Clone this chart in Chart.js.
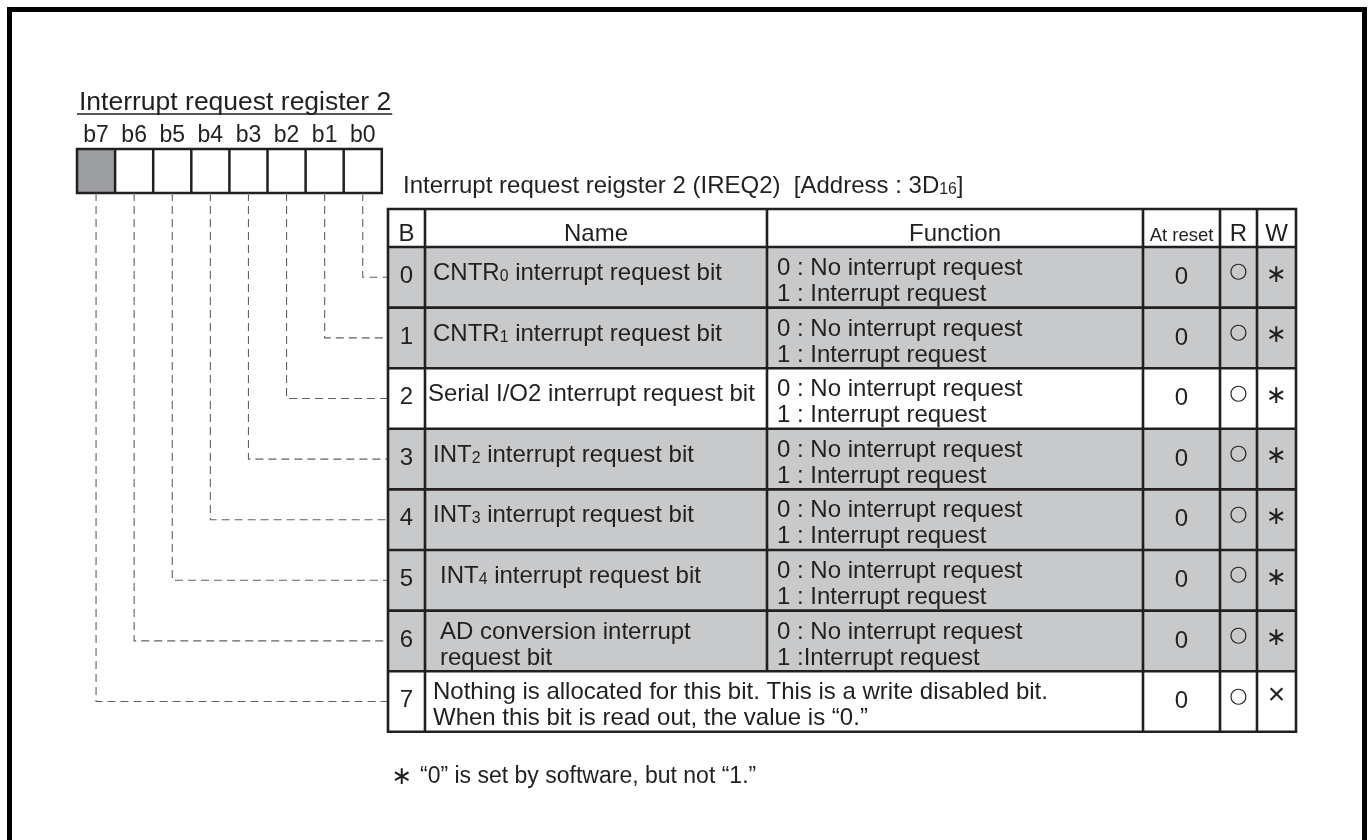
<!DOCTYPE html>
<html>
<head>
<meta charset="utf-8">
<script src="https://cdn.jsdelivr.net/npm/chart.js"></script>
<style>
  html, body { margin: 0; padding: 0; background: #fff; }
  #wrap { width: 1369px; height: 840px; }
</style>
</head>
<body>
<div id="wrap"><canvas id="myChart" width="1369" height="840"></canvas></div>
<script>
"use strict";
// register contents ({..} marks a subscript)
var registerTitle = "Interrupt request register 2";
var tableTitle = "Interrupt request reigster 2 (IREQ2)  [Address : 3D{16}]";
var bitLabels = ["b7", "b6", "b5", "b4", "b3", "b2", "b1", "b0"];
var headers = ["B", "Name", "Function", "At reset", "R", "W"];
var bitNumbers = [0, 1, 2, 3, 4, 5, 6, 7];
var bitNames = [
  "CNTR{0} interrupt request bit",
  "CNTR{1} interrupt request bit",
  "Serial I/O2 interrupt request bit",
  "INT{2} interrupt request bit",
  "INT{3} interrupt request bit",
  "INT{4} interrupt request bit",
  "AD conversion interrupt\nrequest bit",
  "Nothing is allocated for this bit. This is a write disabled bit.\nWhen this bit is read out, the value is \u201c0.\u201d",
];
var func0 = [
  "0 : No interrupt request", "0 : No interrupt request", "0 : No interrupt request",
  "0 : No interrupt request", "0 : No interrupt request", "0 : No interrupt request",
  "0 : No interrupt request", null,
];
var func1 = [
  "1 : Interrupt request", "1 : Interrupt request", "1 : Interrupt request",
  "1 : Interrupt request", "1 : Interrupt request", "1 : Interrupt request",
  "1 :Interrupt request", null,
];
var resetValues = ["0", "0", "0", "0", "0", "0", "0", "0"];
var readMarks = ["\u25cb", "\u25cb", "\u25cb", "\u25cb", "\u25cb", "\u25cb", "\u25cb", "\u25cb"];
var writeMarks = ["\u2217", "\u2217", "\u2217", "\u2217", "\u2217", "\u2217", "\u2217", "\u00d7"];
var shaded = [true, true, false, true, true, true, true, false];
var unusedBits = ["b7"];
var footnote = "\u201c0\u201d is set by software, but not \u201c1.\u201d";

// layout (drawing units = canvas pixels)
var FONT = '"Liberation Sans", Arial, Helvetica, sans-serif';
var SYM = '"DejaVu Sans", sans-serif';
var INK = "#231f20";
var SHADE = "#c8c9cb";
var boxLeft = 77, boxW = 38.1, boxTop = 149, boxBottom = 193;
var colEdges = [388, 425, 767, 1143, 1220, 1257, 1296];
var tableTop = 209, headBottom = 247, rowH = 60.6;
var nameIndent = [433, 433, 428, 433, 433, 440, 440, 433];

function rowTop(n) { return headBottom + n * rowH; }
function bitX(i) { return boxLeft + (i + 0.5) * boxW; }

var leaderSets = bitLabels.map(function (lab, i) {
  var n = bitNumbers[7 - i];
  var y = rowTop(n) + rowH / 2;
  return {
    data: [{ x: bitX(i), y: boxBottom }, { x: bitX(i), y: y }, { x: colEdges[0], y: y }],
    showLine: true,
    borderColor: "#606163",
    borderWidth: 1.1,
    borderDash: [8, 5],
    pointRadius: 0,
    tension: 0,
  };
});

function richText(ctx, str, x, y, size, align) {
  var parts = str.split(/[{}]/);
  var w = 0, i;
  for (i = 0; i < parts.length; i++) {
    ctx.font = (i % 2 ? size * 0.66 : size) + "px " + FONT;
    w += ctx.measureText(parts[i]).width;
  }
  var cx = align === "center" ? x - w / 2 : x;
  ctx.textAlign = "left";
  ctx.textBaseline = "alphabetic";
  for (i = 0; i < parts.length; i++) {
    ctx.font = (i % 2 ? size * 0.66 : size) + "px " + FONT;
    ctx.fillText(parts[i], cx, y + (i % 2 ? 1 : 0));
    cx += ctx.measureText(parts[i]).width;
  }
  return w;
}

var tablePlugin = {
  id: "registerTable",
  beforeDatasetsDraw: function (chart) {
    var ctx = chart.ctx, sx = chart.scales.x, sy = chart.scales.y;
    var X = function (v) { return sx.getPixelForValue(v); };
    var Y = function (v) { return sy.getPixelForValue(v); };
    ctx.save();
    // frame
    ctx.strokeStyle = "#000";
    ctx.lineWidth = 5;
    ctx.beginPath();
    ctx.moveTo(X(9.5), Y(840));
    ctx.lineTo(X(9.5), Y(9.5));
    ctx.lineTo(X(1364.5), Y(9.5));
    ctx.lineTo(X(1364.5), Y(840));
    ctx.stroke();

    ctx.fillStyle = INK;
    var tw = richText(ctx, registerTitle, X(79), Y(110), 26.5, "left");
    ctx.strokeStyle = INK;
    ctx.lineWidth = 1.5;
    ctx.beginPath();
    ctx.moveTo(X(77), Y(114));
    ctx.lineTo(X(79) + tw + 1, Y(114));
    ctx.stroke();

    // register bits
    bitLabels.forEach(function (lab, i) {
      if (unusedBits.indexOf(lab) >= 0) {
        ctx.fillStyle = "#9d9ea0";
        ctx.fillRect(X(boxLeft + i * boxW), Y(boxTop), boxW, boxBottom - boxTop);
      }
      ctx.fillStyle = INK;
      richText(ctx, lab, X(bitX(i)), Y(142), 23, "center");
    });
    ctx.strokeStyle = INK;
    ctx.lineWidth = 2.5;
    ctx.strokeRect(X(boxLeft), Y(boxTop), boxW * 8, boxBottom - boxTop);
    ctx.beginPath();
    for (var k = 1; k < 8; k++) {
      ctx.moveTo(X(boxLeft + k * boxW), Y(boxTop));
      ctx.lineTo(X(boxLeft + k * boxW), Y(boxBottom));
    }
    ctx.stroke();
    ctx.restore();
  },
  afterDatasetsDraw: function (chart) {
    var ctx = chart.ctx, sx = chart.scales.x, sy = chart.scales.y;
    var X = function (v) { return sx.getPixelForValue(v); };
    var Y = function (v) { return sy.getPixelForValue(v); };
    var L = colEdges[0], R = colEdges[6];
    var bottom = rowTop(bitNumbers.length);
    ctx.save();
    ctx.fillStyle = INK;
    richText(ctx, tableTitle, X(403), Y(193), 24, "left");

    // fills
    bitNumbers.forEach(function (n) {
      ctx.fillStyle = shaded[n] ? SHADE : "#fff";
      ctx.fillRect(X(L), Y(rowTop(n)), X(R) - X(L), rowH);
    });
    ctx.fillStyle = "#fff";
    ctx.fillRect(X(L), Y(tableTop), X(R) - X(L), headBottom - tableTop);

    // grid
    ctx.strokeStyle = INK;
    ctx.lineWidth = 2.6;
    ctx.beginPath();
    [tableTop, headBottom].concat(bitNumbers.map(function (n) { return rowTop(n + 1); }))
      .forEach(function (y) {
        ctx.moveTo(X(L - 1.3), Y(y));
        ctx.lineTo(X(R + 1.3), Y(y));
      });
    colEdges.forEach(function (cx, c) {
      ctx.moveTo(X(cx), Y(tableTop));
      ctx.lineTo(X(cx), Y(c === 2 ? rowTop(7) : bottom));
    });
    ctx.stroke();

    // header
    ctx.fillStyle = INK;
    headers.forEach(function (h, c) {
      var mid = (colEdges[c] + colEdges[c + 1]) / 2;
      richText(ctx, h, X(mid), Y(241), c === 3 ? 18.5 : 24, "center");
    });

    // rows
    bitNumbers.forEach(function (n) {
      var t = rowTop(n);
      ctx.fillStyle = INK;
      richText(ctx, String(n), X((colEdges[0] + colEdges[1]) / 2), Y(t + 36), 24, "center");
      var lines = bitNames[n].split("\n");
      if (lines.length === 1) {
        richText(ctx, lines[0], X(nameIndent[n]), Y(t + 33), 24, "left");
      } else {
        richText(ctx, lines[0], X(nameIndent[n]), Y(t + 28), 24, "left");
        richText(ctx, lines[1], X(nameIndent[n]), Y(t + 54), 24, "left");
      }
      if (func0[n]) richText(ctx, func0[n], X(777), Y(t + 28), 24, "left");
      if (func1[n]) richText(ctx, func1[n], X(777), Y(t + 54), 24, "left");
      richText(ctx, resetValues[n], X((colEdges[3] + colEdges[4]) / 2), Y(t + 37), 24, "center");
      ctx.textAlign = "center";
      ctx.textBaseline = "middle";
      ctx.font = "21px " + SYM;
      ctx.fillText(readMarks[n], X((colEdges[4] + colEdges[5]) / 2), Y(t + 25));
      if (writeMarks[n] === "\u00d7") {
        ctx.font = "30px " + FONT;
        ctx.fillText(writeMarks[n], X((colEdges[5] + colEdges[6]) / 2), Y(t + 25));
      } else {
        ctx.font = "25px " + SYM;
        ctx.fillText(writeMarks[n], X((colEdges[5] + colEdges[6]) / 2), Y(t + 28));
      }
    });

    // footnote
    ctx.textAlign = "center";
    ctx.textBaseline = "middle";
    ctx.font = "25px " + SYM;
    ctx.fillText("\u2217", X(402), Y(777));
    richText(ctx, footnote, X(420), Y(783), 23, "left");
    ctx.restore();
  },
};

var ctx = document.getElementById("myChart");
var myChart = new Chart(ctx, {
  type: "scatter",
  data: { datasets: leaderSets },
  options: {
    responsive: false,
    animation: false,
    events: [],
    layout: { padding: 0 },
    plugins: { legend: { display: false }, tooltip: { enabled: false } },
    scales: {
      x: { type: "linear", display: false, min: 0, max: 1369 },
      y: { type: "linear", display: false, min: 0, max: 840, reverse: true },
    },
  },
  plugins: [tablePlugin],
});
</script>
</body>
</html>
